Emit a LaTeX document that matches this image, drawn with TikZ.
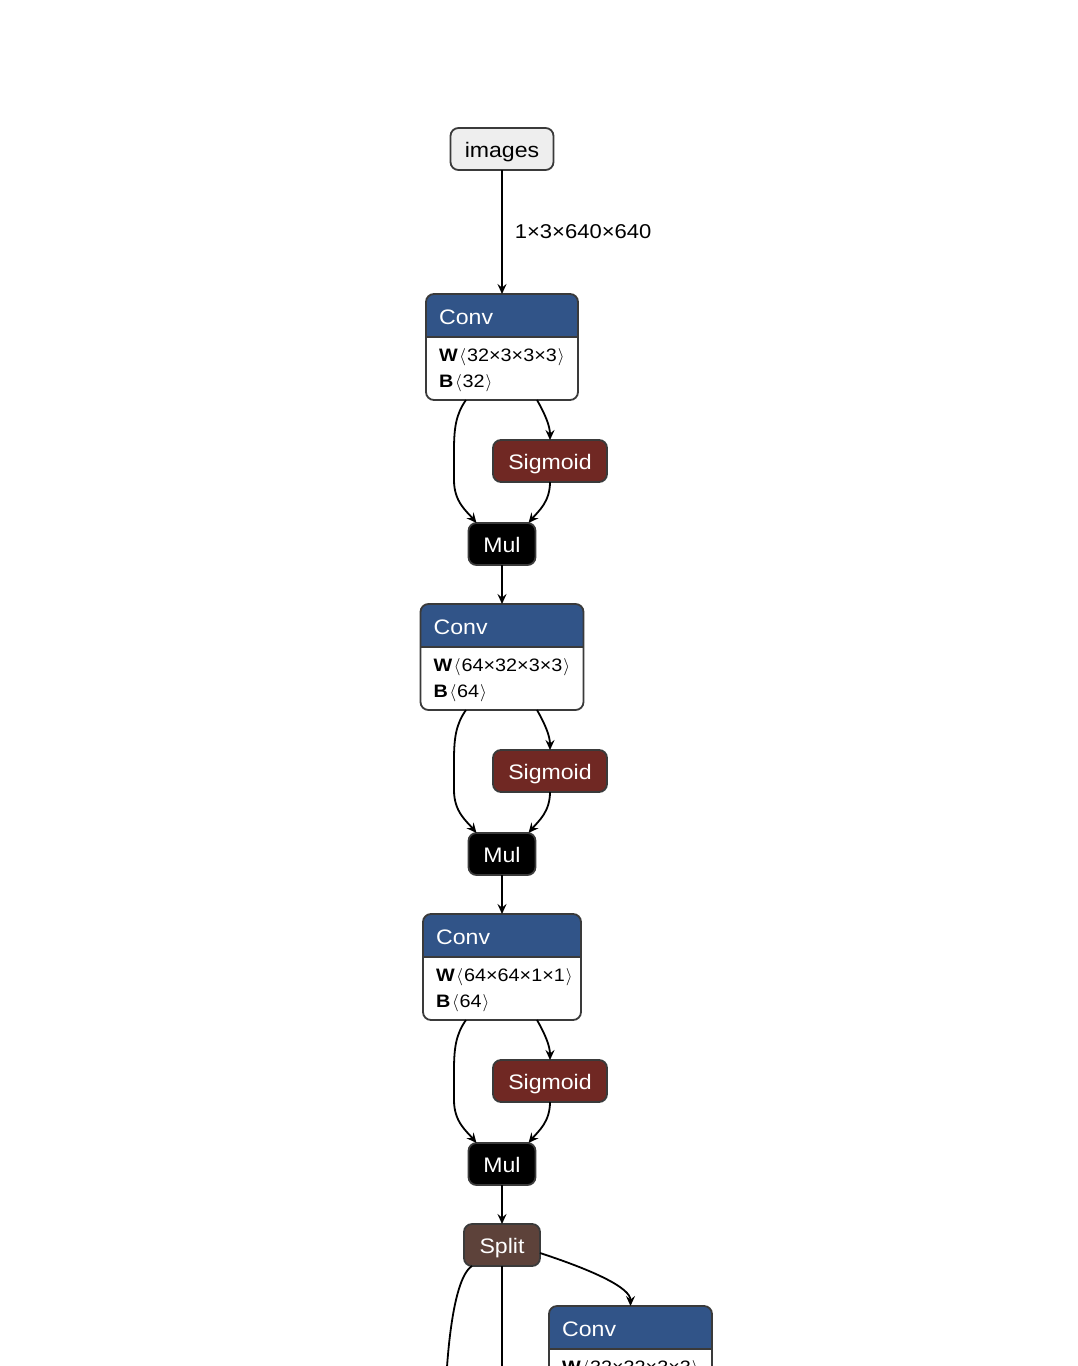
\documentclass[tikz,border=0pt]{standalone}
\usepackage{fontspec}
\setmainfont{Liberation Sans}[FakeStretch=1.1]
\usetikzlibrary{arrows.meta}

\definecolor{layerblue}{RGB}{49,84,136}
\definecolor{actred}{RGB}{112,40,35}
\definecolor{splitbrown}{RGB}{93,66,58}
\definecolor{inputgrey}{RGB}{238,238,238}
\definecolor{nodeborder}{RGB}{58,58,58}

\tikzset{
  box/.style={draw=nodeborder, line width=1.8pt, rounded corners=8pt, inner sep=0pt,
    outer sep=0pt, minimum height=42pt, font=\fontsize{21}{25}\selectfont,
    text height=17pt, text depth=0pt},
  inputbox/.style={box, fill=inputgrey, text=black},
  actbox/.style={box, fill=actred, text=white},
  mulbox/.style={box, fill=black, text=white},
  splitbox/.style={box, fill=splitbrown, text=white},
  convbody/.style={fill=white, inner sep=0pt, outer sep=0pt, minimum height=106pt},
  titletext/.style={inner sep=0pt, text=white, font=\fontsize{21}{25}\selectfont,
    text height=17pt, text depth=0pt},
  attrtext/.style={inner sep=0pt, font=\fontsize{18}{21}\selectfont,
    text height=14pt, text depth=2pt},
  flow/.style={draw=black, line width=1.8pt,
    -{Stealth[length=10pt,width=9pt,inset=3.5pt]}},
  edgelabel/.style={inner sep=0pt, font=\fontsize{20}{24}\selectfont}
}

% angle brackets around tensor shapes
\newcommand\shapeopen{\kern1.5pt$\langle$\kern1pt}
\newcommand\shapeclose{\kern1pt$\rangle$}

% Conv block: name, centre x, centre y, width, weight shape, bias shape
\newcommand\convblock[6]{%
  \node[convbody, minimum width=#4] (#1) at (#2,#3) {};
  \begin{scope}
    \clip (#1.north west) rectangle ([yshift=-43pt]#1.north east);
    \fill[layerblue, rounded corners=8pt] (#1.north west) rectangle (#1.south east);
  \end{scope}
  \draw[nodeborder, line width=1.8pt] ([yshift=-43pt]#1.north west) -- ([yshift=-43pt]#1.north east);
  \draw[nodeborder, line width=1.8pt, rounded corners=8pt] (#1.north west) rectangle (#1.south east);
  \node[titletext, anchor=west] (#1-title) at ([xshift=13pt,yshift=-22pt]#1.north west) {Conv};
  \node[attrtext, anchor=west] (#1-w) at ([xshift=13pt,yshift=-61pt]#1.north west)
    {\textbf{W}\shapeopen#5\shapeclose};
  \node[attrtext, anchor=west] (#1-b) at ([xshift=13pt,yshift=-87pt]#1.north west)
    {\textbf{B}\shapeopen#6\shapeclose};
}

\begin{document}
\begin{tikzpicture}[x=1pt, y=-1pt]
  \useasboundingbox (0,0) rectangle (1078,1366);
  \clip (0,0) rectangle (1078,1366);

  % input
  \node[inputbox, minimum width=103pt] (images) at (502,149) {images};

  % first stage
  \convblock{conv1}{502}{347}{152pt}{32×3×3×3}{32}
  \node[actbox, minimum width=114pt] (sig1) at (550,461) {Sigmoid};
  \node[mulbox, minimum width=67pt] (mul1) at (502,544) {Mul};

  % second stage
  \convblock{conv2}{502}{657}{163pt}{64×32×3×3}{64}
  \node[actbox, minimum width=114pt] (sig2) at (550,771) {Sigmoid};
  \node[mulbox, minimum width=67pt] (mul2) at (502,854) {Mul};

  % third stage
  \convblock{conv3}{502}{967}{158pt}{64×64×1×1}{64}
  \node[actbox, minimum width=114pt] (sig3) at (550,1081) {Sigmoid};
  \node[mulbox, minimum width=67pt] (mul3) at (502,1164) {Mul};

  % split and the branch on the right
  \node[splitbox, minimum width=76pt] (split) at (502,1245) {Split};
  \convblock{conv4}{630.5}{1359}{163pt}{32×32×3×3}{32}

  % outgoing ends below the visible area
  \coordinate (outleft) at (445,1420);
  \coordinate (outmid) at (502,1420);

  % connectors
  \draw[flow] (images.south) -- node[edgelabel, anchor=west, xshift=12pt] (lbl) {1×3×640×640} (conv1.north);

  \foreach \c/\s/\m/\n in {conv1/sig1/mul1/conv2, conv2/sig2/mul2/conv3, conv3/sig3/mul3/split}{
    \draw[flow] ([xshift=-36pt]\c.south) .. controls +(-10,14) and +(0,-22) .. ++(-12,50)
      -- ++(0,30) .. controls +(0,22) and +(-10,-12) .. ([xshift=-25.5pt]\m.north);
    \draw[flow] ([xshift=35pt]\c.south) .. controls +(8,14) and +(0,-14) .. (\s.north);
    \draw[flow] (\s.south) .. controls +(0,20) and +(10,-12) .. ([xshift=26.5pt]\m.north);
    \draw[flow] (\m.south) -- (\n.north);
  }

  \draw[line width=1.8pt] ([xshift=-30pt]split.south) .. controls +(-22,14) and +(0,-40) .. (outleft);
  \draw[line width=1.8pt] (split.south) -- (outmid);
  \draw[flow] ([yshift=-8pt]split.east) .. controls +(55,18) and +(0,-18) .. (conv4.north);
\end{tikzpicture}
\end{document}
